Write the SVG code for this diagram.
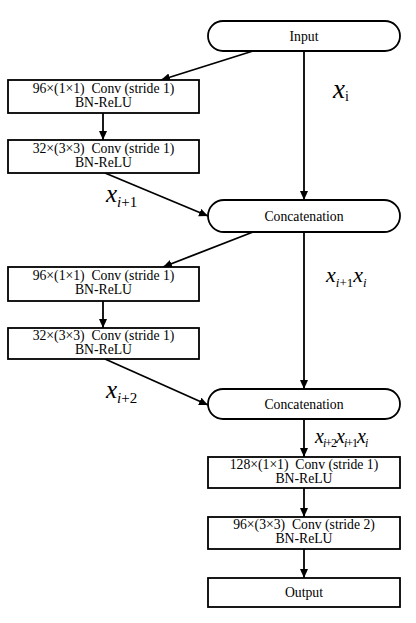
<svg xmlns="http://www.w3.org/2000/svg" width="416" height="623" viewBox="0 0 416 623">
<style>
.b{fill:#fff;stroke:#000;stroke-width:1.8}
text{font-family:'Liberation Serif','Times New Roman','DejaVu Serif',serif;white-space:pre}
.t{font-size:13.7px;text-anchor:middle;fill:#000}
.m{font-style:italic;fill:#000}
.c{stroke:#000;stroke-width:1.8;fill:none;marker-end:url(#a)}
</style>
<defs>
<marker id="a" markerWidth="10" markerHeight="10" refX="9" refY="4" orient="auto" markerUnits="userSpaceOnUse">
<path d="M0,0 L9,4 L0,8 Z" fill="#000"/>
</marker>
</defs>
<g id="connectors">
<line class="c" x1="253" y1="51" x2="161" y2="80"/>
<line class="c" x1="103" y1="113" x2="103" y2="140"/>
<line class="c" x1="304" y1="51" x2="304" y2="200"/>
<line class="c" x1="105" y1="173" x2="208" y2="216"/>
<line class="c" x1="253" y1="232" x2="163" y2="267"/>
<line class="c" x1="103" y1="301" x2="103" y2="328"/>
<line class="c" x1="304" y1="232" x2="304" y2="389"/>
<line class="c" x1="105" y1="359" x2="208" y2="405"/>
<line class="c" x1="304" y1="419" x2="304" y2="457"/>
<line class="c" x1="304" y1="488" x2="304" y2="517"/>
<line class="c" x1="304" y1="549" x2="304" y2="578"/>
</g>
<g id="input">
<rect class="b" x="208" y="21" width="192" height="30" rx="15"/>
<text class="t" x="304" y="40.5">Input</text>
</g>
<g id="conv1">
<rect class="b" x="8" y="80" width="191" height="33"/>
<text class="t" x="103.5" y="93">96×(1×1)  Conv (stride 1)</text>
<text class="t" x="103.5" y="107">BN-ReLU</text>
</g>
<g id="conv2">
<rect class="b" x="8" y="140" width="191" height="33"/>
<text class="t" x="103.5" y="153">32×(3×3)  Conv (stride 1)</text>
<text class="t" x="103.5" y="167">BN-ReLU</text>
</g>
<g id="concat1">
<rect class="b" x="208" y="200" width="192" height="32" rx="16"/>
<text class="t" x="304" y="220.5">Concatenation</text>
</g>
<g id="conv3">
<rect class="b" x="8" y="267" width="191" height="34"/>
<text class="t" x="103.5" y="280">96×(1×1)  Conv (stride 1)</text>
<text class="t" x="103.5" y="294">BN-ReLU</text>
</g>
<g id="conv4">
<rect class="b" x="8" y="328" width="191" height="31"/>
<text class="t" x="103.5" y="340">32×(3×3)  Conv (stride 1)</text>
<text class="t" x="103.5" y="354">BN-ReLU</text>
</g>
<g id="concat2">
<rect class="b" x="208" y="389" width="192" height="30" rx="15"/>
<text class="t" x="304" y="408.5">Concatenation</text>
</g>
<g id="conv5">
<rect class="b" x="208" y="457" width="192" height="31"/>
<text class="t" x="304" y="469">128×(1×1)  Conv (stride 1)</text>
<text class="t" x="304" y="483">BN-ReLU</text>
</g>
<g id="conv6">
<rect class="b" x="208" y="517" width="192" height="32"/>
<text class="t" x="304" y="529">96×(3×3)  Conv (stride 2)</text>
<text class="t" x="304" y="543">BN-ReLU</text>
</g>
<g id="output">
<rect class="b" x="208" y="578" width="192" height="29"/>
<text class="t" x="304" y="597">Output</text>
</g>
<g id="labels">
<text class="m" x="333" y="98" font-size="27">x<tspan font-style="normal" font-size="14" dy="3">i</tspan></text>
<text class="m" x="106" y="202" font-size="25">x<tspan font-size="15" dy="5">i</tspan><tspan font-style="normal" font-size="15">+1</tspan></text>
<text class="m" x="326" y="282" font-size="22">x<tspan font-size="13" dy="5">i</tspan><tspan font-style="normal" font-size="13">+1</tspan><tspan dy="-5">x</tspan><tspan font-size="13" dy="5">i</tspan></text>
<text class="m" x="106" y="398" font-size="25">x<tspan font-size="15" dy="5">i</tspan><tspan font-style="normal" font-size="15">+2</tspan></text>
<text class="m" x="315" y="443" font-size="20" letter-spacing="-1">x<tspan font-size="12" dy="4">i</tspan><tspan font-style="normal" font-size="12">+2</tspan><tspan dy="-4">x</tspan><tspan font-size="12" dy="4">i</tspan><tspan font-style="normal" font-size="12">+1</tspan><tspan dy="-4">x</tspan><tspan font-size="12" dy="4">i</tspan></text>
</g>
</svg>
